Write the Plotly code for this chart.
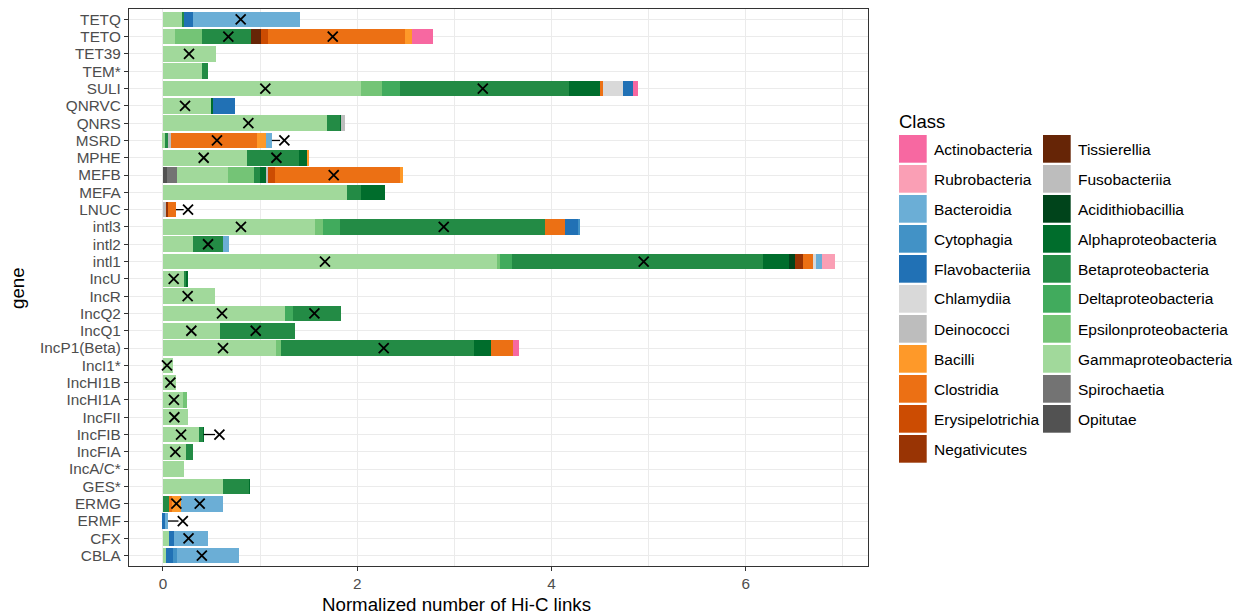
import plotly.graph_objects as go

genes = ["TETQ", "TETO", "TET39", "TEM*", "SULI", "QNRVC", "QNRS", "MSRD",
         "MPHE", "MEFB", "MEFA", "LNUC", "intl3", "intl2", "intl1", "IncU",
         "IncR", "IncQ2", "IncQ1", "IncP1(Beta)", "IncI1*", "IncHI1B", "IncHI1A", "IncFII",
         "IncFIB", "IncFIA", "IncA/C*", "GES*", "ERMG", "ERMF", "CFX", "CBLA"]

opitutae = [0, 0, 0, 0, 0, 0, 0, 0,
            0, 0.041, 0, 0, 0, 0, 0, 0,
            0, 0, 0, 0, 0, 0, 0, 0,
            0, 0, 0, 0, 0, 0, 0, 0]
spirochaetia = [0, 0, 0, 0, 0, 0, 0, 0,
                0, 0.103, 0, 0, 0, 0, 0, 0,
                0, 0, 0, 0, 0, 0, 0, 0,
                0, 0, 0, 0, 0, 0, 0, 0]
gamma = [0.206, 0.124, 0.550, 0.400, 2.036, 0.491, 1.690, 0.020,
         0.862, 0.522, 1.892, 0, 1.562, 0.306, 3.440, 0.223,
         0.532, 1.257, 0.584, 1.161, 0.100, 0.130, 0.210, 0.254,
         0.368, 0.234, 0.213, 0.615, 0, 0, 0.062, 0.031]
epsilon = [0, 0.278, 0, 0, 0.216, 0, 0, 0,
           0, 0.271, 0, 0, 0.082, 0, 0.031, 0,
           0, 0, 0, 0.051, 0, 0, 0.034, 0,
           0, 0, 0, 0, 0, 0, 0, 0]
delta = [0, 0, 0, 0, 0.185, 0, 0, 0,
         0, 0, 0, 0, 0.175, 0, 0.124, 0,
         0, 0.079, 0, 0, 0, 0, 0, 0,
         0, 0, 0, 0, 0, 0, 0, 0]
beta = [0.014, 0.505, 0, 0.062, 1.740, 0, 0.137, 0.027,
        0.535, 0.062, 0.144, 0, 2.111, 0.309, 2.585, 0.017,
        0, 0.494, 0.772, 1.988, 0, 0, 0, 0,
        0.045, 0.072, 0, 0.271, 0.062, 0, 0, 0]
alpha = [0, 0, 0, 0, 0.319, 0.027, 0.007, 0,
         0.093, 0.058, 0.247, 0, 0, 0, 0.268, 0.014,
         0, 0, 0, 0.175, 0, 0, 0, 0,
         0.006, 0, 0, 0.007, 0, 0, 0, 0]
acidithiobacillia = [0, 0, 0, 0, 0, 0, 0, 0,
                     0, 0, 0, 0, 0, 0, 0.062, 0,
                     0, 0, 0, 0, 0, 0, 0, 0,
                     0, 0, 0, 0, 0, 0, 0, 0]
fusobacteriia = [0, 0, 0, 0, 0, 0, 0, 0.034,
                 0, 0.021, 0, 0.031, 0, 0, 0, 0,
                 0, 0, 0, 0, 0, 0, 0, 0,
                 0, 0, 0, 0, 0, 0, 0, 0]
tissierellia = [0, 0.103, 0, 0, 0, 0, 0, 0,
                0, 0, 0, 0, 0, 0, 0, 0,
                0, 0, 0, 0, 0, 0, 0, 0,
                0, 0, 0, 0, 0, 0, 0, 0]
negativicutes = [0, 0, 0, 0, 0, 0, 0, 0,
                 0, 0, 0, 0.017, 0, 0, 0.082, 0,
                 0, 0, 0, 0, 0, 0, 0, 0,
                 0, 0, 0, 0, 0, 0, 0, 0]
erysipelotrichia = [0, 0.072, 0, 0, 0, 0, 0, 0,
                    0, 0.075, 0, 0, 0, 0, 0, 0,
                    0, 0, 0, 0, 0, 0, 0, 0,
                    0, 0, 0, 0, 0, 0, 0, 0]
clostridia = [0, 1.411, 0, 0, 0.030, 0, 0, 0.886,
              0, 1.287, 0, 0.086, 0.206, 0, 0.103, 0,
              0, 0, 0, 0.227, 0, 0, 0, 0,
              0, 0, 0, 0, 0.031, 0, 0, 0]
bacilli = [0, 0.072, 0, 0, 0, 0, 0, 0.089,
           0.017, 0.031, 0, 0, 0, 0, 0, 0,
           0, 0, 0, 0, 0, 0, 0, 0,
           0, 0, 0, 0, 0.093, 0, 0, 0]
deinococci = [0, 0, 0, 0, 0, 0, 0.045, 0,
              0, 0, 0, 0, 0, 0, 0, 0,
              0, 0, 0, 0, 0, 0, 0, 0,
              0, 0, 0, 0, 0, 0, 0, 0]
chlamydiia = [0, 0, 0, 0, 0.216, 0, 0, 0,
              0, 0, 0, 0, 0, 0, 0.031, 0,
              0, 0, 0, 0, 0, 0, 0, 0,
              0, 0, 0, 0, 0, 0, 0, 0]
flavobacteriia = [0.086, 0, 0, 0, 0.103, 0.220, 0, 0,
                  0, 0, 0, 0, 0.144, 0, 0, 0,
                  0, 0, 0, 0, 0, 0, 0, 0,
                  0, 0, 0, 0, 0, 0.020, 0.051, 0.072]
cytophagia = [0, 0, 0, 0, 0, 0, 0, 0,
              0, 0, 0, 0, 0.010, 0, 0, 0,
              0, 0, 0, 0, 0, 0, 0, 0,
              0, 0, 0, 0, 0, 0, 0, 0.041]
bacteroidia = [1.100, 0, 0, 0, 0, 0, 0, 0.065,
               0, 0, 0, 0, 0, 0.062, 0.062, 0,
               0, 0, 0, 0, 0, 0, 0, 0,
               0, 0, 0, 0, 0.433, 0.031, 0.350, 0.639]
rubrobacteria = [0, 0, 0, 0, 0, 0, 0, 0,
                 0, 0, 0, 0, 0, 0, 0.134, 0,
                 0, 0, 0, 0, 0, 0, 0, 0,
                 0, 0, 0, 0, 0, 0, 0, 0]
actinobacteria = [0, 0.213, 0, 0, 0.051, 0, 0, 0,
                  0, 0, 0, 0, 0, 0, 0, 0,
                  0, 0, 0, 0.065, 0, 0, 0, 0,
                  0, 0, 0, 0, 0, 0, 0, 0]

# legend order (column 1 then column 2); stacking goes in the reverse order
legend_col1 = ["Actinobacteria", "Rubrobacteria", "Bacteroidia", "Cytophagia", "Flavobacteriia",
               "Chlamydiia", "Deinococci", "Bacilli", "Clostridia", "Erysipelotrichia", "Negativicutes"]
legend_col2 = ["Tissierellia", "Fusobacteriia", "Acidithiobacillia", "Alphaproteobacteria",
               "Betaproteobacteria", "Deltaproteobacteria", "Epsilonproteobacteria",
               "Gammaproteobacteria", "Spirochaetia", "Opitutae"]

class_values = {
    "Actinobacteria": actinobacteria, "Rubrobacteria": rubrobacteria, "Bacteroidia": bacteroidia,
    "Cytophagia": cytophagia, "Flavobacteriia": flavobacteriia, "Chlamydiia": chlamydiia,
    "Deinococci": deinococci, "Bacilli": bacilli, "Clostridia": clostridia,
    "Erysipelotrichia": erysipelotrichia, "Negativicutes": negativicutes, "Tissierellia": tissierellia,
    "Fusobacteriia": fusobacteriia, "Acidithiobacillia": acidithiobacillia,
    "Alphaproteobacteria": alpha, "Betaproteobacteria": beta, "Deltaproteobacteria": delta,
    "Epsilonproteobacteria": epsilon, "Gammaproteobacteria": gamma, "Spirochaetia": spirochaetia,
    "Opitutae": opitutae,
}

class_colors = {
    "Actinobacteria": "#F768A1", "Rubrobacteria": "#FA9FB5", "Bacteroidia": "#6BAED6",
    "Cytophagia": "#4292C6", "Flavobacteriia": "#2171B5", "Chlamydiia": "#D9D9D9",
    "Deinococci": "#BDBDBD", "Bacilli": "#FE9929", "Clostridia": "#EC7014",
    "Erysipelotrichia": "#CC4C02", "Negativicutes": "#993404", "Tissierellia": "#662506",
    "Fusobacteriia": "#BDBDBD", "Acidithiobacillia": "#00441B", "Alphaproteobacteria": "#006D2C",
    "Betaproteobacteria": "#238B45", "Deltaproteobacteria": "#41AB5D",
    "Epsilonproteobacteria": "#74C476", "Gammaproteobacteria": "#A1D99B",
    "Spirochaetia": "#737373", "Opitutae": "#525252",
}

marker_genes = ["TETQ", "TETO", "TETO", "TET39", "SULI", "SULI", "QNRVC", "QNRS", "MSRD", "MSRD",
                "MPHE", "MPHE", "MEFB", "LNUC", "intl3", "intl3", "intl2", "intl1", "intl1", "IncU",
                "IncR", "IncQ2", "IncQ2", "IncQ1", "IncQ1", "IncP1(Beta)", "IncP1(Beta)", "IncI1*",
                "IncHI1B", "IncHI1A", "IncFII", "IncFIB", "IncFIB", "IncFIA", "ERMG", "ERMG", "ERMF",
                "CFX", "CBLA"]
marker_x = [0.80, 0.673, 1.748, 0.268, 1.054, 3.293, 0.227, 0.879, 0.556, 1.25,
            0.419, 1.168, 1.758, 0.258, 0.803, 2.891, 0.464, 1.668, 4.95, 0.110,
            0.254, 0.608, 1.559, 0.292, 0.955, 0.618, 2.273, 0.041,
            0.076, 0.113, 0.117, 0.186, 0.581, 0.127, 0.138, 0.378, 0.204,
            0.263, 0.40]

FONT = "Liberation Sans, Arial, Helvetica, sans-serif"

fig = go.Figure()
stack_order = list(reversed(legend_col1 + legend_col2))
for cls in stack_order:
    fig.add_trace(go.Bar(
        y=genes, x=class_values[cls], orientation="h", name=cls,
        marker=dict(color=class_colors[cls], line=dict(width=0)),
        width=0.9, showlegend=False,
    ))

totals = [sum(class_values[c][i] for c in stack_order) for i in range(len(genes))]
total_of = dict(zip(genes, totals))

# connector lines from bar end to markers lying beyond the bar
for g, xv in zip(marker_genes, marker_x):
    t = total_of[g]
    if xv > t:
        fig.add_trace(go.Scatter(
            x=[t, xv - 0.045], y=[g, g], mode="lines",
            line=dict(color="black", width=1.3), showlegend=False, hoverinfo="skip",
        ))

fig.add_trace(go.Scatter(
    x=marker_x, y=marker_genes, mode="markers",
    marker=dict(symbol="x-thin", size=10, line=dict(color="black", width=1.8)),
    showlegend=False,
))

L, R, T, B = 129, 371, 9, 50
W, H = 1239, 616
PW, PH = W - L - R, H - T - B


def px(xp):
    return (xp - L) / PW


def py(yp):
    return (H - B - yp) / PH


shapes = []
annotations = []
annotations.append(dict(x=px(897), y=py(121), xref="paper", yref="paper", text="Class",
                        showarrow=False, xanchor="left", yanchor="middle",
                        font=dict(family=FONT, size=18.5, color="black")))
for col, (bx, tx, names) in enumerate([(899, 931.5, legend_col1), (1043, 1075.5, legend_col2)]):
    for i, name in enumerate(names):
        top = 135 + 30 * i
        shapes.append(dict(type="rect", xref="paper", yref="paper",
                           x0=px(bx), x1=px(bx + 27.7), y0=py(top + 27.7), y1=py(top),
                           fillcolor=class_colors[name], line=dict(width=0)))
        annotations.append(dict(x=px(tx), y=py(top + 14), xref="paper", yref="paper", text=name,
                                showarrow=False, xanchor="left", yanchor="middle",
                                font=dict(family=FONT, size=15.5, color="black")))

annotations.append(dict(x=px(456.5), y=py(604), xref="paper", yref="paper",
                        text="Normalized number of Hi-C links", showarrow=False,
                        xanchor="center", yanchor="middle",
                        font=dict(family=FONT, size=18.7, color="black")))
annotations.append(dict(x=px(17), y=py(288), xref="paper", yref="paper",
                        text="gene", showarrow=False, textangle=-90,
                        xanchor="center", yanchor="middle",
                        font=dict(family=FONT, size=18.7, color="black")))

fig.update_layout(
    width=W, height=H, barmode="stack", bargap=0.1,
    margin=dict(l=L, r=R, t=T, b=B, autoexpand=False),
    paper_bgcolor="white", plot_bgcolor="white",
    font=dict(family=FONT, size=15, color="#4D4D4D"),
    shapes=shapes, annotations=annotations, showlegend=False,
    xaxis=dict(range=[-0.35, 7.26], tick0=0, dtick=2, showgrid=True, gridcolor="#EBEBEB",
               gridwidth=1.1, zeroline=False, showline=True, mirror=True, linecolor="#333333",
               linewidth=1.2, ticks="outside", ticklen=4, tickcolor="#333333", tickwidth=1.1,
               tickfont=dict(family=FONT, size=15.3, color="#4D4D4D"),
               minor=dict(dtick=1, tick0=0, showgrid=True, gridcolor="#EBEBEB", gridwidth=0.55)),
    yaxis=dict(type="category", categoryorder="array", categoryarray=list(reversed(genes)),
               tickmode="array", tickvals=genes, ticktext=genes,
               range=[-0.6, len(genes) - 0.4], showgrid=True, gridcolor="#EBEBEB", gridwidth=1.1,
               zeroline=False, showline=True, mirror=True, linecolor="#333333", linewidth=1.2,
               ticks="outside", ticklen=4, tickcolor="#333333", tickwidth=1.1,
               tickfont=dict(family=FONT, size=15.3, color="#4D4D4D")),
)

fig.write_html("out.html", config={"displayModeBar": False},
               post_script="document.body.style.margin='0';")
